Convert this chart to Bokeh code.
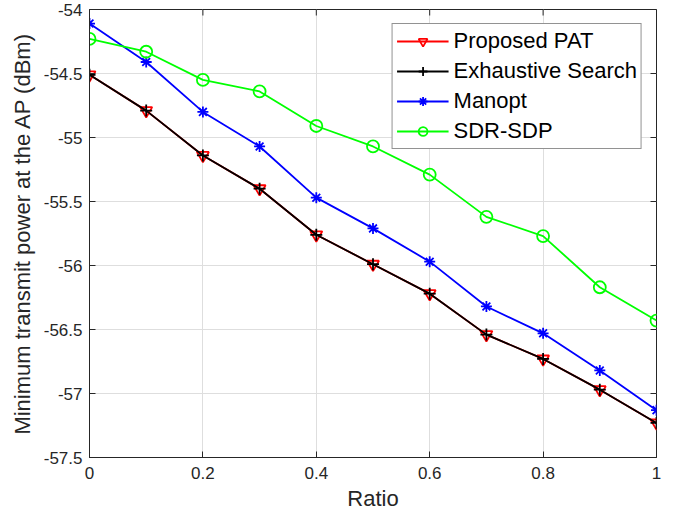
import math
from bokeh.plotting import figure
from bokeh.models import FixedTicker, Legend, LegendItem
from bokeh.embed import file_html
from bokeh.resources import INLINE

# Ratio values on the horizontal axis
ratio = [0.0, 0.1, 0.2, 0.3, 0.4, 0.5, 0.6, 0.7, 0.8, 0.9, 1.0]

# Minimum transmit power at the AP (dBm) for each method
proposed_pat = [-54.51, -54.79, -55.14, -55.40, -55.76, -55.99, -56.22, -56.54, -56.73, -56.97, -57.23]
exhaustive_search = [-54.51, -54.79, -55.14, -55.40, -55.76, -55.99, -56.22, -56.54, -56.73, -56.97, -57.23]
manopt = [-54.11, -54.41, -54.80, -55.07, -55.47, -55.71, -55.97, -56.32, -56.53, -56.82, -57.13]
sdr_sdp = [-54.23, -54.33, -54.55, -54.64, -54.91, -55.07, -55.29, -55.62, -55.77, -56.17, -56.43]

x_ticks = [0, 0.2, 0.4, 0.6, 0.8, 1]
x_tick_labels = ["0", "0.2", "0.4", "0.6", "0.8", "1"]
y_ticks = [-57.5, -57, -56.5, -56, -55.5, -55, -54.5, -54]
y_tick_labels = ["-57.5", "-57", "-56.5", "-56", "-55.5", "-55", "-54.5", "-54"]

X_MIN, X_MAX = 0, 1
Y_MIN, Y_MAX = -57.5, -54

FONT = "Liberation Sans"
AXIS_COLOR = "#262626"

p = figure(
    frame_width=567, frame_height=448,
    x_range=(X_MIN, X_MAX), y_range=(Y_MIN, Y_MAX),
    min_border_left=89, min_border_right=22, min_border_top=9, min_border_bottom=58,
    output_backend="svg", toolbar_location=None,
)
p.outline_line_color = AXIS_COLOR
p.outline_line_width = 1
p.background_fill_color = "white"
p.border_fill_color = "white"

# grid
for g in (p.xgrid, p.ygrid):
    g.grid_line_color = "#dedede"
    g.grid_line_width = 1
p.xgrid.ticker = FixedTicker(ticks=x_ticks)
p.ygrid.ticker = FixedTicker(ticks=y_ticks)

def style_axis(ax, ticks, labels):
    ax.ticker = FixedTicker(ticks=ticks)
    ax.major_label_overrides = {t: l for t, l in zip(ticks, labels)}
    ax.axis_line_color = AXIS_COLOR
    ax.major_tick_line_color = AXIS_COLOR
    ax.major_tick_in = 6
    ax.major_tick_out = 0
    ax.minor_tick_line_color = None
    ax.major_label_text_font = FONT
    ax.major_label_text_color = AXIS_COLOR
    ax.major_label_text_font_size = "17px"
    ax.axis_label_text_font = FONT
    ax.axis_label_text_font_size = "22px"
    ax.axis_label_text_font_style = "normal"
    ax.axis_label_text_color = AXIS_COLOR

xa = p.xaxis[0]
ya = p.yaxis[0]
style_axis(xa, x_ticks, x_tick_labels)
style_axis(ya, y_ticks, y_tick_labels)
xa.major_label_standoff = 9
ya.major_label_standoff = 7
xa.axis_label = "Ratio"
ya.axis_label = "Minimum transmit power at the AP (dBm)"
xa.axis_label_standoff = 4
ya.axis_label_standoff = 6

# inward ticks on the top and right edges of the box (half of each dash is clipped by the frame)
p.scatter([X_MAX] * len(y_ticks), y_ticks, marker="dash", size=12,
          line_color=AXIS_COLOR, line_width=1)
p.scatter(x_ticks, [Y_MAX] * len(x_ticks), marker="dash", size=12, angle=math.pi / 2,
          line_color=AXIS_COLOR, line_width=1)

# series: (label, values, colour, marker, marker size)
series = [
    ("Proposed PAT", proposed_pat, "#ff0000", "inverted_triangle", 12),
    ("Exhaustive Search", exhaustive_search, "#000000", "cross", 12),
    ("Manopt", manopt, "#0000ff", "asterisk", 11),
    ("SDR-SDP", sdr_sdp, "#00ff00", "circle", 12),
]

items = []
for label, values, color, marker, size in series:
    line = p.line(ratio, values, line_color=color, line_width=1.8)
    pts = p.scatter(ratio, values, marker=marker, size=size,
                    fill_color=None, line_color=color, line_width=1.8)
    items.append(LegendItem(label=label, renderers=[line, pts]))

legend = Legend(items=items)
legend.location = "top_right"
legend.margin = 14
legend.padding = 4
legend.spacing = 4
legend.glyph_width = 52
legend.glyph_height = 22
legend.label_height = 26
legend.label_standoff = 5
legend.label_text_font = FONT
legend.label_text_font_size = "22px"
legend.label_text_color = "#000000"
legend.border_line_color = AXIS_COLOR
legend.border_line_width = 1
legend.background_fill_color = "white"
legend.background_fill_alpha = 1
p.add_layout(legend, "center")

open("out.html", "w").write(file_html(p, INLINE))
